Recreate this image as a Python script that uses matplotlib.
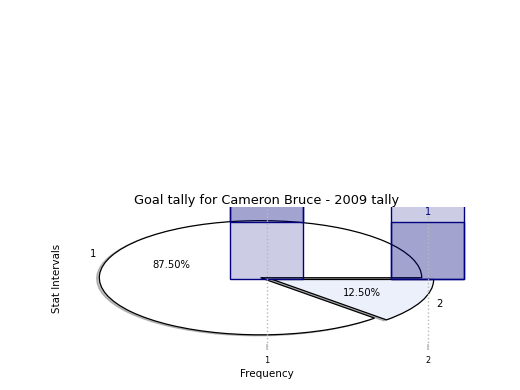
import matplotlib
matplotlib.use("Agg")
import matplotlib.pyplot as plt

# pie: share of goals per stat interval
pie_labels = ["1", "2"]
pie_values = [7, 1]
pie_explode = [0.04, 0.04]
pie_colors = ["white", "#ebf0fb"]

# frequency bars (two overlapping translucent series)
positions = [1, 2]
tick_labels = ["1", "2"]
series_a = [2, 1]
series_b_bottom = [1, 0]
series_b = [1, 2]

title = "Goal tally for Cameron Bruce - 2009 tally"

fig = plt.figure(figsize=(5.2, 3.9), dpi=100)
ax = fig.add_axes([0.125, 0.1026, 0.775, 0.366])

ax.pie(
    pie_values,
    labels=pie_labels,
    explode=pie_explode,
    colors=pie_colors,
    autopct="%1.2f%%",
    shadow=dict(ox=-0.012, oy=-0.012, shade=0.5),
    center=(1, 0),
    wedgeprops=dict(edgecolor="black", linewidth=0.9),
    textprops=dict(fontsize=7.2),
)
ax.set_aspect("auto")

face = (0.0, 0.0, 0.5, 0.2)
ax.bar(positions, series_a, width=0.45, facecolor=face, edgecolor="navy", linewidth=1.0)
ax.bar(positions, series_b, bottom=series_b_bottom, width=0.45,
       facecolor=face, edgecolor="navy", linewidth=1.0)
ax.annotate(str(series_a[1]), (positions[1], series_a[1]), xytext=(0, 6.5),
            textcoords="offset points", ha="center", va="center",
            fontsize=7, color="navy")

ax.set_xlim(-0.25, 2.25)
ax.set_ylim(-1.25, 1.25)
ax.set_xticks(positions, tick_labels)
ax.set_yticks([])
ax.tick_params(axis="x", direction="in", length=4, width=1.2,
               color="#c0c0c0", labelsize=5.9, pad=4)
ax.grid(axis="x", linestyle=":", color="#b8b8b8", linewidth=1.0)

ax.set_xlabel("Frequency", fontsize=7.5, labelpad=3)
ax.set_ylabel("Stat Intervals", fontsize=7.4, labelpad=2)
ax.set_title(title, fontsize=9.3, pad=1.5)

fig.savefig("out.png", dpi=100)
